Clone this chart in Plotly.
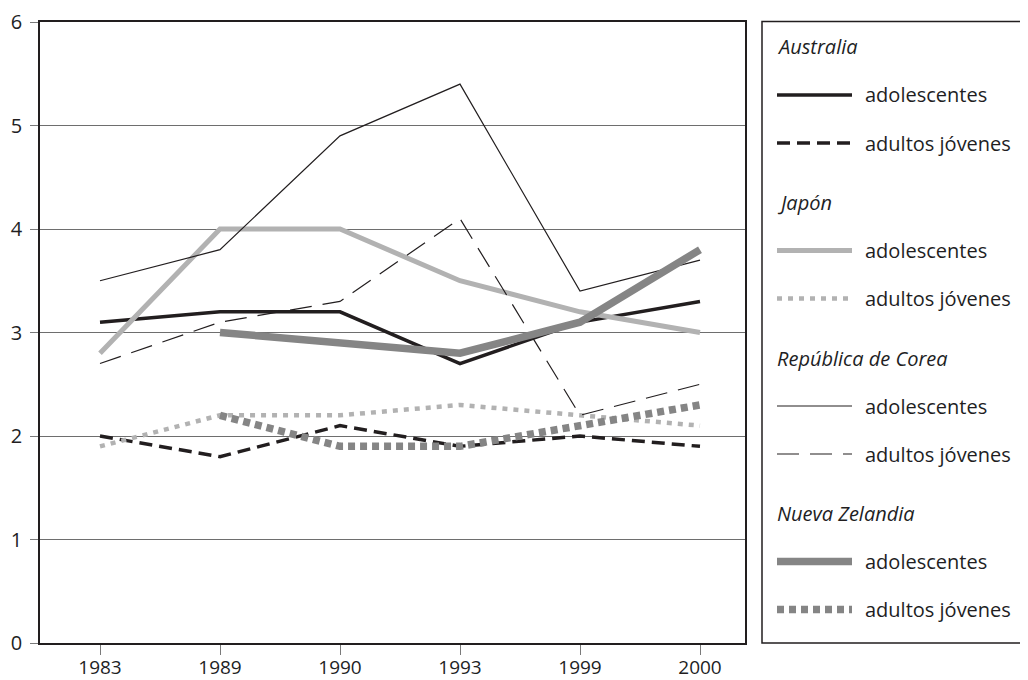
import plotly.graph_objects as go

years = ["1983", "1989", "1990", "1993", "1999", "2000"]

aus_adol = [3.1, 3.2, 3.2, 2.7, 3.1, 3.3]
aus_adul = [2.0, 1.8, 2.1, 1.9, 2.0, 1.9]
jap_adol = [2.8, 4.0, 4.0, 3.5, 3.2, 3.0]
jap_adul = [1.9, 2.2, 2.2, 2.3, 2.2, 2.1]
kor_adol = [3.5, 3.8, 4.9, 5.4, 3.4, 3.7]
kor_adul = [2.7, 3.1, 3.3, 4.1, 2.2, 2.5]
nz_adol = [None, 3.0, 2.9, 2.8, 3.1, 3.8]
nz_adul = [None, 2.2, 1.9, 1.9, 2.1, 2.3]

countries = ["Australia", "Japón", "República de Corea", "Nueva Zelandia"]
series_labels = ["adolescentes", "adultos jóvenes"]

BLACK = "#221e1f"
LIGHT = "#b2b2b2"
MID = "#858585"
FONT = "Open Sans"
FS = 20

styles = [
    (dict(color=BLACK, width=3.5), dict(color=BLACK, width=3.5, dash="13px,7px")),
    (dict(color=LIGHT, width=5), dict(color=LIGHT, width=4.5, dash="5px,6px")),
    (dict(color=BLACK, width=1.2), dict(color=BLACK, width=1.2, dash="22px,11px")),
    (dict(color=MID, width=7.5), dict(color=MID, width=7.5, dash="7px,5px")),
]
data = [(aus_adol, aus_adul), (jap_adol, jap_adul), (kor_adol, kor_adul), (nz_adol, nz_adul)]

# the page body adds an 8px margin; work in page pixels and shift
OFF = 8
W, H = 1028 - OFF, 680 - OFF
L, R, T, B = 40, 745, 22, 643   # plot area in page pixels

fig = go.Figure()
for c, (vals, sty) in enumerate(zip(data, styles)):
    for s in range(2):
        fig.add_trace(go.Scatter(
            x=years, y=vals[s], mode="lines", line=sty[s],
            name=f"{countries[c]} {series_labels[s]}", showlegend=False,
            connectgaps=False, hoverinfo="x+y+name",
        ))

def px(x):
    return (x - L) / (R - L)

def py(y):
    return (B - y) / (B - T)

shapes = []
annotations = []
shapes.append(dict(type="rect", xref="paper", yref="paper",
                   x0=px(762), x1=px(1040), y0=py(643), y1=py(21.5),
                   line=dict(color=BLACK, width=1.5), fillcolor="rgba(0,0,0,0)"))
group_step = 155.5
for c in range(4):
    ty = 47 + group_step * c
    annotations.append(dict(xref="paper", yref="paper", x=px(775), y=py(ty),
                            xanchor="left", yanchor="middle", showarrow=False,
                            text=f"<i>{countries[c]}</i>",
                            font=dict(family=FONT, size=FS, color=BLACK)))
    for s in range(2):
        iy = ty + 48 + 48 * s
        shapes.append(dict(type="line", xref="paper", yref="paper",
                           x0=px(777), x1=px(852), y0=py(iy), y1=py(iy),
                           line=styles[c][s]))
        annotations.append(dict(xref="paper", yref="paper", x=px(863), y=py(iy),
                                xanchor="left", yanchor="middle", showarrow=False,
                                text=series_labels[s],
                                font=dict(family=FONT, size=FS, color=BLACK)))

fig.update_layout(
    template="none",
    width=W, height=H,
    margin=dict(l=L - OFF, r=W - (R - OFF), t=T - OFF, b=H - (B - OFF), pad=0),
    paper_bgcolor="white", plot_bgcolor="white",
    font=dict(family=FONT, size=FS, color=BLACK),
    showlegend=False,
    shapes=shapes, annotations=annotations,
    xaxis=dict(type="category", categoryorder="array", categoryarray=years,
               range=[-0.5, 5.375], showgrid=False, zeroline=False, automargin=False,
               showline=True, mirror=True, linecolor=BLACK, linewidth=1.5,
               ticks="outside", ticklen=10, tickcolor="#7a7a7a", tickwidth=1.2,
               ticklabelstandoff=-4,
               tickfont=dict(family=FONT, size=19, color=BLACK)),
    yaxis=dict(range=[0, 6], dtick=1, showgrid=True, gridcolor="#6e6e6e", gridwidth=1.2,
               zeroline=False, showline=True, mirror=True, linecolor=BLACK, linewidth=1.5,
               automargin=False,
               ticks="outside", ticklen=8, tickcolor="#7a7a7a", tickwidth=1.2,
               ticklabelstandoff=4,
               tickfont=dict(family=FONT, size=FS, color=BLACK)),
)

fig.write_html("out.html")
